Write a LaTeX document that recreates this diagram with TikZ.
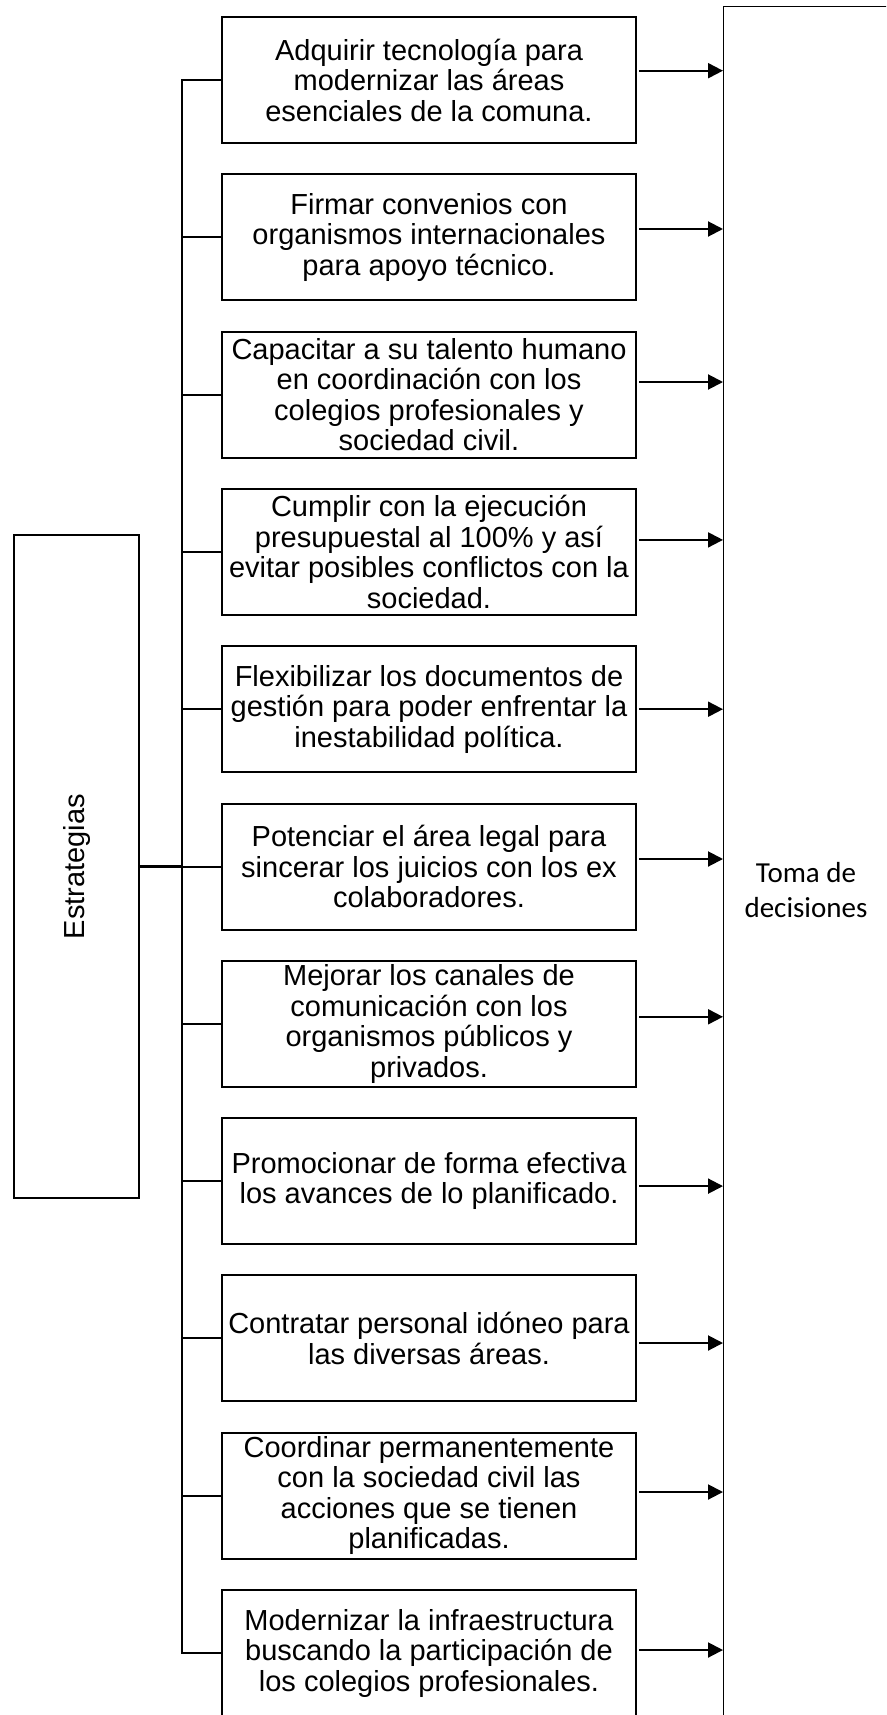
\documentclass[tikz,border=0pt]{standalone}
\usepackage{fontspec}
\setmainfont{Liberation Sans}
\newfontfamily\carlitofont{Carlito}
\usetikzlibrary{arrows.meta}
\begin{document}
\begin{tikzpicture}[x=1pt,y=-1pt,
  stratbox/.style={draw, line width=2pt, minimum width=414pt, minimum height=126pt,
    align=center, inner xsep=1pt, inner ysep=0pt, font=\fontsize{29}{30.5}\selectfont},
  estbox/.style={draw, line width=2pt, minimum width=125pt, minimum height=663pt, inner sep=0pt},
  ln/.style={line width=2pt, line join=miter},
  arr/.style={line width=2pt, -{Triangle[length=15pt,width=15pt]}}
]
\useasboundingbox (0,0) rectangle (886,1715);
\clip (0,0) rectangle (886,1715);

% right box
\node[draw, line width=1pt, anchor=north west, minimum width=260pt, minimum height=1800pt, inner sep=0pt] (td) at (723,6) {};
\node[font=\carlitofont\fontsize{29}{35}\selectfont, align=center, inner sep=0pt] (tdl) at (806,890) {Toma de\\decisiones};

% left box
\node[estbox] (est) at (76.8,866.5) {};
\node[rotate=90, font=\fontsize{29}{30.5}\selectfont, inner sep=0pt] (estl) at (est.center) {Estrategias};

% strategy boxes
\node[stratbox] (b1) at (429,80) {Adquirir tecnología para\\modernizar las áreas\\esenciales de la comuna.};
\node[stratbox] (b2) at (429,237.3) {Firmar convenios con\\organismos internacionales\\para apoyo técnico.};
\node[stratbox] (b3) at (429,394.6) {Capacitar a su talento humano\\en coordinación con los\\colegios profesionales y\\sociedad civil.};
\node[stratbox] (b4) at (429,551.9) {Cumplir con la ejecución\\presupuestal al 100\% y así\\evitar posibles conflictos con la\\sociedad.};
\node[stratbox] (b5) at (429,709.2) {Flexibilizar los documentos de\\gestión para poder enfrentar la\\inestabilidad política.};
\node[stratbox] (b6) at (429,866.5) {Potenciar el área legal para\\sincerar los juicios con los ex\\colaboradores.};
\node[stratbox] (b7) at (429,1023.8) {Mejorar los canales de\\comunicación con los\\organismos públicos y\\privados.};
\node[stratbox] (b8) at (429,1181.1) {Promocionar de forma efectiva\\los avances de lo planificado.};
\node[stratbox] (b9) at (429,1338.4) {Contratar personal idóneo para\\las diversas áreas.};
\node[stratbox] (b10) at (429,1495.7) {Coordinar permanentemente\\con la sociedad civil las\\acciones que se tienen\\planificadas.};
\node[stratbox] (b11) at (429,1653) {Modernizar la infraestructura\\buscando la participación de\\los colegios profesionales.};

% bus
\coordinate (bus) at (182,866.5);
\draw[ln] (b1.west) -- (b1.west -| bus) -- (b11.west -| bus) -- (b11.west);
\foreach \k in {2,...,10} {
  \draw[ln] (b\k.west) -- (b\k.west -| bus);
}
\draw[line width=3pt] (est.east) -- (est.east -| bus);

% arrows
\foreach \k/\dy in {1/9.3, 2/8.3, 3/12.6, 4/12, 5/0, 6/7.5, 7/7, 8/-5, 9/-4.6, 10/3.7, 11/3} {
  \draw[arr] ([xshift=2pt,yshift=\dy pt]b\k.east) -- ([yshift=\dy pt]b\k.east -| td.west);
}
\end{tikzpicture}
\end{document}
